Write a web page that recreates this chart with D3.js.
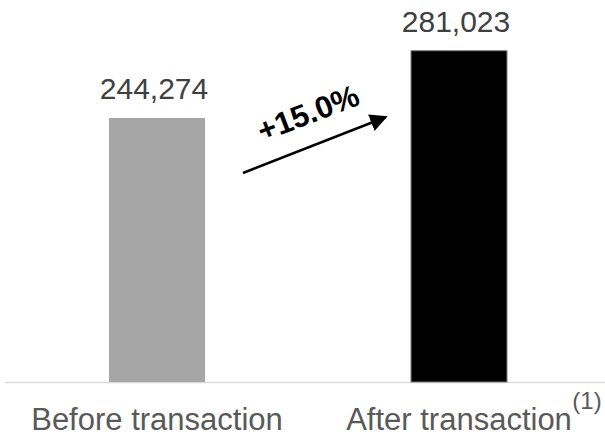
<!DOCTYPE html>
<html><head><meta charset="utf-8">
<script src="https://cdn.jsdelivr.net/npm/d3@7"></script>
<style>html,body{margin:0;padding:0;background:#fff;}svg{display:block;}</style>
</head><body>
<svg id="chart" width="605" height="437"></svg>
<script>
const categories = ["Before transaction", "After transaction"];
const values = [244274, 281023];
const barColors = ["#a6a6a6", "#000000"];
const growthLabel = "+15.0%";
const footnote = "(1)";

const svg = d3.select("#chart");
const baseY = 382;
const x = d3.scalePoint().domain(categories).range([157, 459]);
const y = d3.scaleLinear().domain([100000, 300000]).range([baseY, 16]);
const barW = 96;

// baseline
svg.append("line").attr("x1", 5).attr("x2", 605).attr("y1", baseY + 0.5).attr("y2", baseY + 0.5)
  .attr("stroke", "#d9d9d9").attr("stroke-width", 1.5);

// bars
svg.selectAll("rect.bar").data(values).enter().append("rect")
  .attr("class", "bar")
  .attr("x", (d, i) => x(categories[i]) - barW / 2)
  .attr("width", barW)
  .attr("y", d => y(d))
  .attr("height", d => baseY - y(d))
  .attr("fill", (d, i) => barColors[i])
  .attr("stroke", (d, i) => i === 1 ? "#7f7f7f" : "none")
  .attr("stroke-width", 1);

// value labels
const fmt = d3.format(",");
svg.selectAll("text.val").data(values).enter().append("text")
  .attr("class", "val")
  .attr("x", (d, i) => x(categories[i]) - 3)
  .attr("y", d => y(d) - 19)
  .attr("text-anchor", "middle")
  .attr("font-family", "Liberation Sans, Arial, sans-serif")
  .attr("font-size", 30)
  .attr("fill", "#404040")
  .text(d => fmt(d));

// category labels
svg.selectAll("text.cat").data(categories).enter().append("text")
  .attr("class", "cat")
  .attr("x", d => x(d))
  .attr("y", 430)
  .attr("text-anchor", "middle")
  .attr("font-family", "Liberation Sans, Arial, sans-serif")
  .attr("font-size", 31)
  .attr("fill", "#595959")
  .text(d => d);

svg.append("text")
  .attr("x", 587).attr("y", 409)
  .attr("text-anchor", "middle")
  .attr("font-family", "Liberation Sans, Arial, sans-serif")
  .attr("font-size", 24)
  .attr("fill", "#595959")
  .text(footnote);

// arrow
const defs = svg.append("defs");
defs.append("marker").attr("id", "ah")
  .attr("viewBox", "0 0 10 10").attr("refX", 9).attr("refY", 5)
  .attr("markerWidth", 7).attr("markerHeight", 7).attr("markerUnits", "strokeWidth")
  .attr("orient", "auto")
  .append("path").attr("d", "M0,0 L10,5 L0,10 Z").attr("fill", "#000");
svg.append("line")
  .attr("x1", 243).attr("y1", 173).attr("x2", 386).attr("y2", 117)
  .attr("stroke", "#000").attr("stroke-width", 2.5)
  .attr("marker-end", "url(#ah)");

svg.append("text")
  .attr("transform", "translate(312,123) rotate(-21)")
  .attr("text-anchor", "middle")
  .attr("font-family", "Liberation Sans, Arial, sans-serif")
  .attr("font-weight", "bold")
  .attr("font-size", 31)
  .attr("fill", "#000")
  .text(growthLabel);
</script>
</body></html>
